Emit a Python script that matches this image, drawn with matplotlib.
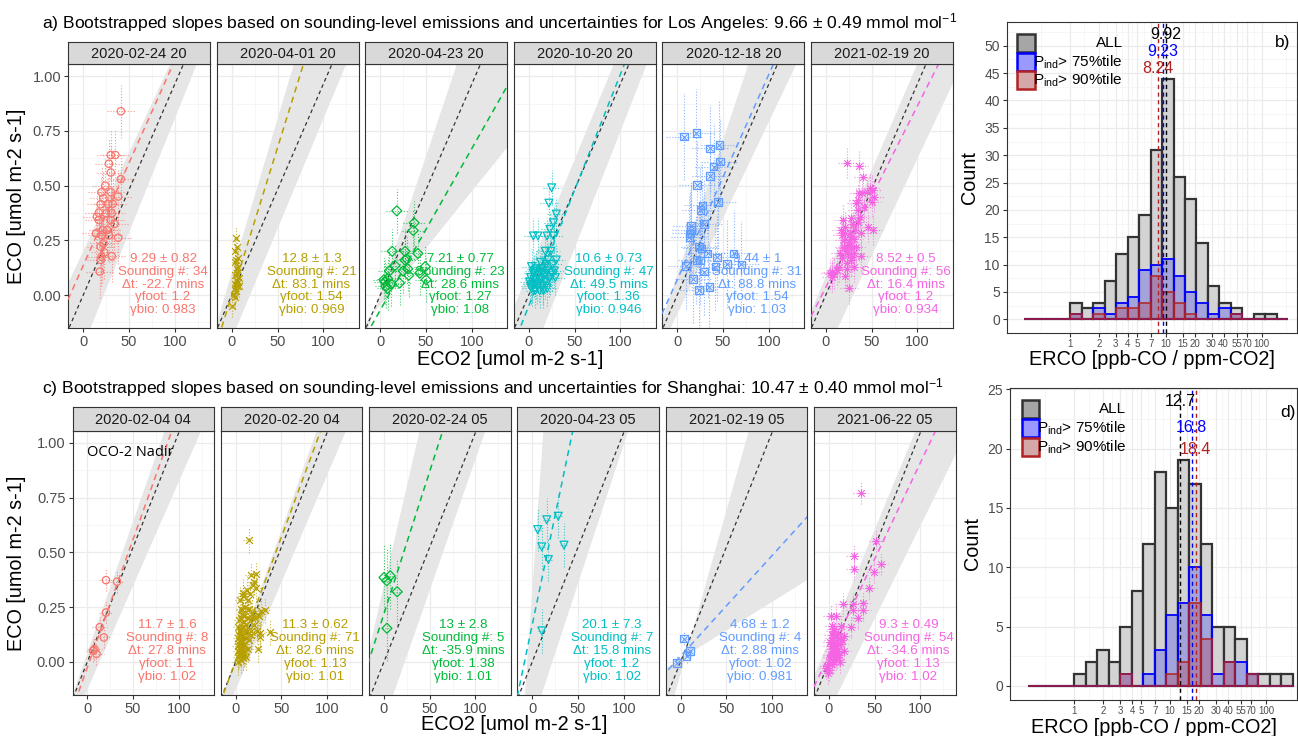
import numpy as np
import matplotlib
matplotlib.use("Agg")
import matplotlib.pyplot as plt
from matplotlib.patches import Rectangle
from matplotlib.ticker import FixedLocator, NullFormatter

plt.rcParams['font.family'] = ['Liberation Sans', 'DejaVu Sans']
plt.rcParams['mathtext.fontset'] = 'custom'
plt.rcParams['mathtext.rm'] = 'Liberation Sans'
plt.rcParams['mathtext.it'] = 'Liberation Sans:italic'

# ---------------- data ----------------
COLS = ['#F8766D', '#B79F00', '#00BA38', '#00BFC4', '#619CFF', '#F564E3']
MARKS = ['o', 'x', 'D', 'v', 'sx', 'ast']

LA_dates = ['2020-02-24 20', '2020-04-01 20', '2020-04-23 20', '2020-10-20 20', '2020-12-18 20', '2021-02-19 20']
SH_dates = ['2020-02-04 04', '2020-02-20 04', '2020-02-24 05', '2020-04-23 05', '2021-02-19 05', '2021-06-22 05']

LA_x = [
    [41, 30, 35, 28, 41, 30, 24, 20, 30, 38, 19, 27, 17, 17, 30, 34, 20, 28, 38, 22, 23, 20, 31, 19, 18, 15, 21, 25, 32, 22, 14, 31, 19, 26],
    [5, 6, 4, 5, 3, 7, 6, 8, 5, 7, 4, 6, 3, 5, 8, 2, 4, 0, 6, 3, 7],
    [18, 37, 36, 13, 27, 41, 29, 10, 16, 25, 30, 8, 5, 6, 12, 21, 31, 43, 49, 50, 4, 27, 8],
    [25, 22, 30, 27, 23, 20, 27, 10, 5, 18, 24, 21, 30, 3, 8, 12, 15, 20, 25, 28, 5, 10, 2, 6, 13, 18, 22, 4, 9, 15,
     3, 7, 12, 20, 1, 14, 17, 26, 11, 6, 23, 19, 8, 16, 2, 29, 13],
    [7.5, 20.8, 35.8, 46, 46.4, 39.6, 35.8, 21.5, 27.5, 25.3, 44.5, 29, 15, 14, 23.8, 26.4, 33, 9.4, 24.5, 43.4, 61.5,
     54, 70, 41.5, 29, 17, 23.4, 35, 14.7, 13.2, 20.8],
    [23.4, 36.6, 40.4, 48, 40, 53, 50.6, 35.5, 37, 18.9, 29.8, 46, 51.7, 17, 26.4, 19.6, 31, 26, 23.4, 38.5, 29, 23.4,
     6.8, 9, 4.5, 21.5, 25.3, 27, 33, 21.5, 17.7, 24, 28, 34.7, 42, 45, 33, 19.6, 14, 31, 27, 20.8, 15.8, 25.3, 31.7,
     12, 38.5, 31, 21.5, 34.7, 27, 17.7, 23.4, 6.4, 36.6, 50],
]
LA_y = [
    [0.84, 0.64, 0.64, 0.60, 0.53, 0.56, 0.50, 0.47, 0.47, 0.45, 0.415, 0.415, 0.376, 0.343, 0.343, 0.325, 0.274, 0.273,
     0.262, 0.236, 0.195, 0.175, 0.178, 0.16, 0.107, 0.358, 0.297, 0.373, 0.417, 0.442, 0.282, 0.373, 0.221, 0.297],
    [0.26, 0.22, 0.20, 0.16, 0.15, 0.13, 0.10, 0.08, 0.07, 0.06, 0.05, 0.04, 0.03, 0.02, 0.04, 0.0, -0.01, -0.05, 0.12,
     0.09, 0.17],
    [0.385, 0.33, 0.295, 0.20, 0.20, 0.19, 0.165, 0.11, 0.135, 0.11, 0.12, 0.075, 0.06, 0.04, 0.05, 0.055, 0.09, 0.10,
     0.13, 0.07, 0.07, 0.16, 0.03],
    [0.49, 0.42, 0.37, 0.33, 0.30, 0.27, 0.27, 0.27, 0.27, 0.20, 0.20, 0.16, 0.16, 0.13, 0.12, 0.11, 0.10, 0.11, 0.10,
     0.11, 0.10, 0.09, 0.08, 0.07, 0.07, 0.06, 0.07, 0.05, 0.04, 0.04, 0.03, 0.02, 0.02, 0.03, 0.06, 0.12, 0.09, 0.14,
     0.05, 0.11, 0.08, 0.14, 0.06, 0.02, 0.04, 0.08, 0.15],
    [0.724, 0.742, 0.67, 0.686, 0.61, 0.587, 0.544, 0.503, 0.41, 0.39, 0.425, 0.325, 0.316, 0.282, 0.221, 0.213, 0.19,
     0.134, 0.157, 0.172, 0.19, 0.142, 0.14, 0.13, 0.107, 0.072, 0.023, 0.038, 0.297, 0.264, 0.16],
    [0.605, 0.59, 0.541, 0.488, 0.468, 0.45, 0.427, 0.434, 0.358, 0.343, 0.325, 0.313, 0.297, 0.297, 0.282, 0.252,
     0.255, 0.224, 0.206, 0.178, 0.175, 0.145, 0.107, 0.096, 0.099, 0.087, 0.03, 0.267, 0.221, 0.213, 0.274, 0.187,
     0.35, 0.389, 0.404, 0.473, 0.42, 0.221, 0.13, 0.13, 0.16, 0.282, 0.19, 0.244, 0.297, 0.114, 0.282, 0.19, 0.313,
     0.332, 0.213, 0.168, 0.117, 0.084, 0.465, 0.48],
]
SH_x = [
    [20.3, 32.4, 20.3, 13.5, 18, 7.7, 9.9, 6.3],
    [14.4, 16.7, 20, 22.3, 8.4, 32.6, 6.5, 13, 17.7, 24.7, 37.7, 26.5, 6, 16.7,
     3, 5, 7, 4, 6, 8, 5, 3, 9, 6, 10, 2, 4, 7, 11, 5, 8, 3, 6, 9, 12, 4, 7, 10, 5, 8, 13, 15, 2, 6, 9, 11, 4, 7, 3,
     10, 6, 8, 5, 14, 18, 20, 16, 12, 22, 19, 21, 25, 13, 17, 24, 11, 9, 15, 23, 28, 27],
    [0, 6.8, 14.4, 3.2, 3],
    [5.9, 10.4, 15.8, 28.4, 34.7, 17.6, 10.4],
    [3.8, 10.3, 6.5, -3.8],
    [34.7, 52, 56.6, 49.8, 27.2, 27.2, 44.2, 15.1, 26.4, 37, 26.4, 37.7, 1.9, 7.5, 32, 23.8, 17, 13.2, 3.8,
     0, 2, 4, 6, 3, 8, 5, 10, 1, 7, 9, 12, 4, 6, 2, 11, 13, 3, 5, 8, -2, -1, 0, 6, 10, 14, 1, 7, 9, 4, 16, 12, 3, -3, 8],
]
SH_y = [
    [0.373, 0.366, 0.225, 0.158, 0.111, 0.058, 0.036, 0.05],
    [0.555, 0.396, 0.366, 0.335, 0.316, 0.237, 0.237, 0.237, 0.2, 0.214, 0.135, 0.115, 0.13, 0.141,
     0.02, 0.04, 0.06, 0.08, 0.1, 0.12, 0.14, 0.16, 0.18, 0.2, 0.05, 0.0, 0.03, 0.09, 0.11, 0.06, 0.02, 0.11, 0.15,
     0.08, 0.14, 0.19, 0.22, 0.25, 0.28, 0.3, 0.2, 0.1, 0.07, 0.01, 0.04, 0.17, 0.12, 0.16, 0.05, 0.13, 0.24, 0.07,
     0.1, 0.28, 0.22, 0.17, 0.31, 0.33, 0.4, 0.35, 0.2, 0.21, 0.06, 0.12, 0.06, 0.02, 0.21, 0.24, 0.14, 0.23, 0.13],
    [0.385, 0.393, 0.32, 0.153, 0.37],
    [0.604, 0.525, 0.649, 0.665, 0.533, 0.467, 0.141],
    [0.106, 0.05, 0.025, -0.005],
    [0.773, 0.552, 0.446, 0.412, 0.483, 0.422, 0.337, 0.266, 0.266, 0.27, 0.235, 0.235, 0.208, 0.208, 0.2, 0.159,
     0.118, 0.163, 0.163,
     0.0, 0.03, 0.05, 0.08, 0.1, 0.12, 0.14, 0.06, 0.02, 0.04, 0.09, 0.11, 0.0, 0.02, 0.07, 0.03, 0.08, 0.12, 0.06,
     0.01, -0.02, -0.05, -0.04, 0.15, 0.13, 0.1, 0.09, 0.07, 0.02, 0.11, 0.05, 0.0, -0.01, -0.03, 0.05],
]
# typical error half-widths per panel
LA_xerr = [15, 3, 12, 10, 20, 10]
LA_yerr = [0.12, 0.05, 0.10, 0.08, 0.20, 0.07]
SH_xerr = [8, 6, 5, 4, 5, 8]
SH_yerr = [0.05, 0.06, 0.15, 0.10, 0.03, 0.05]

# overall slopes (black) and panel fits (coloured)
LA_all_slope = 0.00966
SH_all_slope = 0.01047
LA_fit_slope = [0.0094, 0.0135, 0.0074, 0.0106, 0.0094, 0.0083]
LA_fit_icpt = [0.135, 0.0, -0.069, -0.05, 0.07, 0.035]
SH_fit_slope = [0.0117, 0.0113, 0.0130, 0.0200, 0.0046, 0.0088]
SH_fit_icpt = [-0.025, 0.005, 0.22, 0.17, 0.025, 0.029]
# bootstrap envelope: two bounding lines (slope, intercept)
LA_band = [((0.00902, 0.208), (0.01042, -0.226)), ((0.0141, 0.111), (0.01007, -0.193)),
           ((0.0125, 0.02), (0.0052, -0.04)), ((0.0102, 0.117), (0.0107, -0.313)),
           ((0.0124, 0.10), (0.0088, -0.08)), ((0.00976, 0.09), (0.00891, -0.26))]
SH_band = [((0.0120, 0.05), (0.0095, -0.12)), ((0.0118, 0.02), (0.0098, -0.12)),
           ((0.0181, 0.35), (0.01197, -0.273)), ((0.06, 0.33), (0.01273, -0.28)),
           ((0.01487, -0.044), (0.0026, 0.017)), ((0.0101, 0.106), (0.00848, -0.221))]

LA_ratio = ['9.29 ± 0.82', '12.8 ± 1.3', '7.21 ± 0.77', '10.6 ± 0.73', '9.44 ± 1', '8.52 ± 0.5']
LA_n = [34, 21, 23, 47, 31, 56]
LA_dt = ['-22.7', '83.1', '28.6', '49.5', '88.8', '16.4']
LA_gfoot = ['1.2', '1.54', '1.27', '1.36', '1.54', '1.2']
LA_gbio = ['0.983', '0.969', '1.08', '0.946', '1.03', '0.934']
SH_ratio = ['11.7 ± 1.6', '11.3 ± 0.62', '13 ± 2.8', '20.1 ± 7.3', '4.68 ± 1.2', '9.3 ± 0.49']
SH_n = [8, 71, 5, 7, 4, 54]
SH_dt = ['27.8', '82.6', '-35.9', '15.8', '2.88', '-34.6']
SH_gfoot = ['1.1', '1.13', '1.38', '1.2', '1.02', '1.13']
SH_gbio = ['1.02', '1.01', '1.01', '1.02', '0.981', '1.02']

# histograms (log10 bins of width 0.12 starting at -0.48)
b_all = [0, 0, 0, 0, 3, 2, 3, 7, 12, 15, 19, 31, 44, 26, 22, 14, 6, 3, 2, 0, 1, 1, 0]
b_p75 = [0, 0, 0, 0, 1, 0, 2, 1, 3, 4, 9, 10, 11, 8, 5, 3, 1, 2, 1, 0, 0, 0, 0]
b_p90 = [0, 0, 0, 0, 1, 0, 1, 0, 2, 2, 3, 8, 5, 3, 1, 0, 0, 0, 1, 0, 0, 0, 0]
d_all = [0, 0, 0, 0, 1, 2, 3, 2, 5, 8, 12, 18, 15, 19, 17, 12, 5, 5, 4, 1, 1, 1, 1]
d_p75 = [0, 0, 0, 0, 0, 0, 0, 0, 1, 0, 1, 3, 6, 7, 10, 6, 1, 2, 2, 1, 0, 0, 0]
d_p90 = [0, 0, 0, 0, 0, 0, 0, 0, 1, 0, 0, 0, 1, 2, 7, 4, 0, 2, 0, 1, 0, 0, 0]
b_med = [9.92, 9.23, 8.24]
d_med = [12.7, 16.8, 18.4]
b_lab = ['9.92', '9.23', '8.24']
d_lab = ['12.7', '16.8', '18.4']
erco_ticks = [1, 2, 3, 4, 5, 7, 10, 15, 20, 30, 40, 55, 70, 100]

# ---------------- layout ----------------
W, H = 1298, 736
fig = plt.figure(figsize=(W / 100, H / 100), dpi=100)
TXT = '#1A1A1A'
TICK = '#4D4D4D'
EDGE = '#333333'


def px_axes(x0, y0, x1, y1):
    return fig.add_axes([x0 / W, 1 - y1 / H, (x1 - x0) / W, (y1 - y0) / H])


def style_frame(ax):
    for s in ax.spines.values():
        s.set_color(EDGE)
        s.set_linewidth(0.8)


def draw_marks(ax, x, y, col, mk):
    if mk == 'o':
        ax.scatter(x, y, s=28, facecolors='none', edgecolors=col, linewidths=0.9, zorder=6)
    elif mk == 'x':
        ax.scatter(x, y, s=24, marker='x', color=col, linewidths=0.9, zorder=6)
    elif mk == 'D':
        ax.scatter(x, y, s=26, marker='D', facecolors='none', edgecolors=col, linewidths=0.9, zorder=6)
    elif mk == 'v':
        ax.scatter(x, y, s=32, marker='v', facecolors='none', edgecolors=col, linewidths=0.9, zorder=6)
    elif mk == 'sx':
        ax.scatter(x, y, s=30, marker='s', facecolors='none', edgecolors=col, linewidths=0.9, zorder=6)
        ax.scatter(x, y, s=18, marker='x', color=col, linewidths=0.8, zorder=6)
    else:
        ax.scatter(x, y, s=34, marker='+', color=col, linewidths=0.8, zorder=6)
        ax.scatter(x, y, s=22, marker='x', color=col, linewidths=0.8, zorder=6)


def facet_row(lefts, width, strip_top, top, bottom, dates, xs, ys, xe, ye, all_slope,
              fslope, ficpt, bands, ratio, nn, dt, gfoot, gbio):
    xlim = (-16.3, 138.5)
    ylim = (-0.152, 1.056)
    xg = np.linspace(xlim[0] - 5, xlim[1] + 5, 400)
    axes = []
    for i in range(6):
        ax = px_axes(lefts[i], top, lefts[i] + width, bottom)
        ax.set_xlim(*xlim)
        ax.set_ylim(*ylim)
        ax.set_xticks([0, 50, 100])
        ax.xaxis.set_minor_locator(FixedLocator([-25, 25, 75, 125]))
        ax.set_yticks([0, 0.25, 0.5, 0.75, 1.0])
        ax.yaxis.set_minor_locator(FixedLocator([-0.125, 0.125, 0.375, 0.625, 0.875]))
        ax.grid(which='major', color='#EBEBEB', lw=0.9)
        ax.grid(which='minor', color='#F3F3F3', lw=0.5)
        ax.set_axisbelow(True)
        ax.tick_params(which='minor', length=0)
        ax.tick_params(which='major', length=3, color=EDGE, labelcolor=TICK, labelsize=10.5, pad=2)
        if i == 0:
            ax.set_yticklabels(['0.00', '0.25', '0.50', '0.75', '1.00'])
        else:
            ax.tick_params(axis='y', left=False, labelleft=False)
        style_frame(ax)

        (s1, b1), (s2, b2) = bands[i]
        l1 = s1 * xg + b1
        l2 = s2 * xg + b2
        ax.fill_between(xg, np.minimum(l1, l2), np.maximum(l1, l2), color='#E6E6E6', lw=0, zorder=1)
        ax.plot(xg, all_slope * xg, ls=(0, (3, 2.5)), color=EDGE, lw=0.9, zorder=3)
        col = COLS[i]
        ax.plot(xg, fslope[i] * xg + ficpt[i], ls=(0, (4, 3)), color=col, lw=1.1, zorder=3)

        x = np.array(xs[i])
        y = np.array(ys[i])
        ax.hlines(y, x - xe[i], x + xe[i], colors=col, linestyles=(0, (1, 1.6)), lw=0.8, alpha=0.75, zorder=4)
        ax.vlines(x, y - ye[i], y + ye[i], colors=col, linestyles=(0, (1, 1.6)), lw=0.8, alpha=0.75, zorder=4)
        draw_marks(ax, x, y, col, MARKS[i])

        lines = [ratio[i], 'Sounding #: %d' % nn[i], 'Δt: %s mins' % dt[i],
                 'γfoot: %s' % gfoot[i], 'γbio: %s' % gbio[i]]
        for k, ln in enumerate(lines):
            ax.text(87, 0.166 - 0.059 * k, ln, ha='center', va='center', color=col, fontsize=9.6, zorder=7)

        sx = px_axes(lefts[i], strip_top, lefts[i] + width, top)
        sx.set_facecolor('#D9D9D9')
        sx.set_xticks([])
        sx.set_yticks([])
        style_frame(sx)
        sx.text(0.5, 0.47, dates[i], ha='center', va='center', fontsize=10.5, color=TXT, transform=sx.transAxes)
        axes.append(ax)
    return axes


LA_lefts = [68.3, 216.8, 365.3, 513.8, 662.3, 810.8]
SH_lefts = [72.5, 220.8, 369.1, 517.4, 665.7, 814.0]

facet_row(LA_lefts, 142, 41.7, 64, 328.3, LA_dates, LA_x, LA_y, LA_xerr, LA_yerr, LA_all_slope,
          LA_fit_slope, LA_fit_icpt, LA_band, LA_ratio, LA_n, LA_dt, LA_gfoot, LA_gbio)
sh_axes = facet_row(SH_lefts, 141.5, 407.5, 430.7, 695, SH_dates, SH_x, SH_y, SH_xerr, SH_yerr, SH_all_slope,
                    SH_fit_slope, SH_fit_icpt, SH_band, SH_ratio, SH_n, SH_dt, SH_gfoot, SH_gbio)
sh_axes[0].text(0, 0.955, 'OCO-2 Nadir', family=['Open Sans', 'DejaVu Sans'], fontsize=10.5, color='black',
                ha='left', va='center', zorder=8)

fig.text(42 / W, 1 - 23 / H,
         'a) Bootstrapped slopes based on sounding-level emissions and uncertainties for Los Angeles: '
         '9.66 ± 0.49 mmol mol$^{-1}$', fontsize=12.6, ha='left', va='center', color='black')
fig.text(42 / W, 1 - 388 / H,
         'c) Bootstrapped slopes based on sounding-level emissions and uncertainties for Shanghai: '
         '10.47 ± 0.40 mmol mol$^{-1}$', fontsize=12.6, ha='left', va='center', color='black')
for yc in (196, 563):
    fig.text(17 / W, 1 - yc / H, 'ECO [umol m-2 s-1]', rotation=90, fontsize=14.3, ha='center', va='center')
fig.text(510 / W, 1 - 360 / H, 'ECO2 [umol m-2 s-1]', fontsize=14.3, ha='center', va='center')
fig.text(514 / W, 1 - 724 / H, 'ECO2 [umol m-2 s-1]', fontsize=14.3, ha='center', va='center')


# ---------------- histograms ----------------
def hist_panel(box, c_all, c75, c90, meds, labs, lab_y, ylim, yticks, tag, tag_xy, xlim_log):
    ax = px_axes(*box)
    edges = 10 ** (np.arange(24) * 0.12 - 0.48)
    left = edges[:-1]
    wid = np.diff(edges)
    ax.bar(left, c_all, width=wid, align='edge', facecolor='#D3D3D3', edgecolor=EDGE, lw=1.6, zorder=2)
    ax.bar(left, c75, width=wid, align='edge', facecolor=(0, 0, 1, 0.22), edgecolor='blue', lw=1.3, zorder=3)
    ax.bar(left, c90, width=wid, align='edge', facecolor=(0.70, 0.13, 0.13, 0.25), edgecolor='#B22222',
           lw=1.1, zorder=4)
    ax.set_xscale('log')
    ax.set_xlim(10 ** xlim_log[0], 10 ** xlim_log[1])
    ax.set_ylim(*ylim)
    ax.xaxis.set_major_locator(FixedLocator(erco_ticks))
    ax.set_xticklabels([str(t) for t in erco_ticks])
    mids = [np.sqrt(a * b) for a, b in zip(erco_ticks[:-1], erco_ticks[1:])] + [0.5, 180]
    ax.xaxis.set_minor_locator(FixedLocator(mids))
    ax.xaxis.set_minor_formatter(NullFormatter())
    ax.set_yticks(yticks)
    ax.yaxis.set_minor_locator(FixedLocator([v + 2.5 for v in yticks]))
    ax.grid(which='major', color='#EBEBEB', lw=0.9)
    ax.grid(which='minor', color='#F3F3F3', lw=0.5)
    ax.set_axisbelow(True)
    ax.tick_params(which='minor', length=0)
    ax.tick_params(axis='x', which='major', length=3, color=EDGE, labelcolor=TICK, labelsize=7, pad=1.5)
    ax.tick_params(axis='y', which='major', length=3, color=EDGE, labelcolor=TICK, labelsize=10, pad=2)
    style_frame(ax)
    cols = ['black', 'blue', '#B22222']
    for m, lb, ly, c in zip(meds, labs, lab_y, cols):
        ax.axvline(m, color=c, ls=(0, (3, 2.5)), lw=1.0, zorder=5)
        ax.text(m, ly, lb, color=c, fontsize=11.5, ha='center', va='center', zorder=6)
    ax.text(tag_xy[0], tag_xy[1], tag, transform=ax.transAxes, fontsize=12.5, ha='center', va='center')
    ax.set_ylabel('Count', fontsize=14.3, labelpad=4)
    ax.set_xlabel('ERCO [ppb-CO / ppm-CO2]', fontsize=14.3, labelpad=1)
    return ax


def legend_box(ax, kx, rows, tx):
    keys = [('#A6A6A6', EDGE, 'ALL'), ((0.6, 0.6, 1.0), 'blue', r'P$_{\mathrm{ind}}$> 75%tile'),
            ((0.83, 0.66, 0.66), '#B22222', r'P$_{\mathrm{ind}}$> 90%tile')]
    for (fc, ec, lb), ry in zip(keys, rows):
        ax.add_patch(Rectangle((kx, ry - 0.028), 0.06, 0.056, transform=ax.transAxes, facecolor=fc,
                               edgecolor=ec, lw=1.8, zorder=8))
        ax.text(tx, ry, lb, transform=ax.transAxes, ha='right', va='center', fontsize=11, zorder=8)


axb = hist_panel((1006.7, 21.7, 1297, 332.7), b_all, b_p75, b_p90, b_med, b_lab, [52.1, 49.0, 45.8],
                 (-2.45, 54.4), list(range(0, 51, 5)), 'b)', (0.95, 0.932), (-0.661, 2.369))
legend_box(axb, 0.036, [0.932, 0.870, 0.812], 0.40)
axd = hist_panel((1010, 388, 1297, 700), d_all, d_p75, d_p90, d_med, d_lab, [23.95, 21.8, 19.9],
                 (-1.18, 25.1), list(range(0, 26, 5)), 'd)', (0.97, 0.92), (-0.671, 2.323))
legend_box(axd, 0.042, [0.933, 0.872, 0.811], 0.405)

fig.savefig('out.png', dpi=100)
